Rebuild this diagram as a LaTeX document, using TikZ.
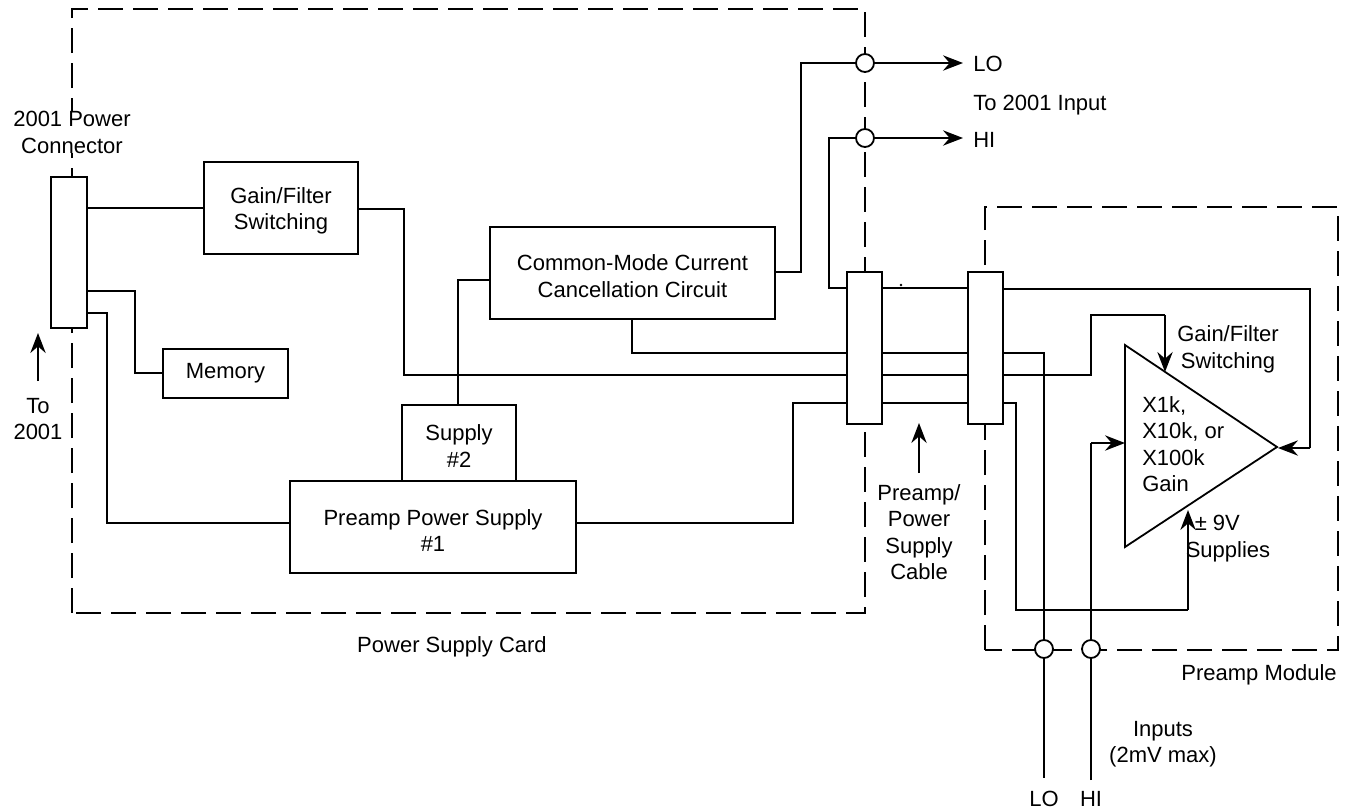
\documentclass[tikz,border=0pt]{standalone}
\usepackage{fontspec}
\setmainfont{Liberation Sans}
\usetikzlibrary{arrows.meta}
\tikzset{
  x=0.75pt,y=-0.75pt,
  wire/.style={line width=1.35pt},
  arr/.style={wire,-{Stealth[length=15pt,width=11.5pt,inset=5pt]}},
  bound/.style={line width=1.35pt,dash pattern=on 18.75pt off 7.5pt},
  blockbox/.style={draw,line width=1.35pt,fill=white,inner sep=0pt},
  port/.style={draw,circle,line width=1.35pt,fill=white,inner sep=0pt,minimum size=13.5pt},
  lbl/.style={align=center,inner sep=0pt,font=\fontsize{16.5pt}{19.8pt}\selectfont},
  lblw/.style={lbl,fill=white,inner xsep=1pt,inner ysep=0pt}
}
\begin{document}
\begin{tikzpicture}
\useasboundingbox (0,0) rectangle (1346,811);
% dashed enclosures
\coordinate (cardTL) at (72,9);
\coordinate (cardTR) at (865,9);
\coordinate (cardBR) at (865,613);
\coordinate (cardBL) at (72,613);
\coordinate (modTL) at (985,207);
\coordinate (modTR) at (1338,207);
\coordinate (modBR) at (1338,650);
\coordinate (modBL) at (985,650);
\draw[bound] (cardBL) -- (cardTL) -- (cardTR) -- (cardBR) -- (cardBL);
\draw[bound] (modBL) -- (modTL) -- (modTR) -- (modBR) -- (modBL);
% text that interrupts the dashed line
\node[lblw] (pwr) at (72,132.5) {2001 Power\\Connector};
% blocks
\node[blockbox,minimum width=27pt,minimum height=113.25pt] (conL) at (69,252.5) {};
\node[blockbox,minimum width=115.5pt,minimum height=69pt] (gain) at (281,208) {};
\node[lbl] (gainT) at (281,211) {Gain/Filter\\Switching};
\node[blockbox,minimum width=93.75pt,minimum height=36.75pt] (mem) at (225.5,373.5) {};
\node[lbl] (memT) at (225.5,373.5) {Memory};
\node[blockbox,minimum width=213.75pt,minimum height=69pt] (cm) at (632.5,273) {};
\node[lbl] (cmT) at (632.5,276) {Common-Mode Current\\Cancellation Circuit};
\node[blockbox,minimum width=85.5pt,minimum height=57pt] (sup2) at (459,443) {};
\node[lbl] (sup2T) at (459,446) {Supply\\\#2};
\node[blockbox,minimum width=214.5pt,minimum height=69pt] (pps) at (433,527) {};
\node[lbl] (ppsT) at (433,530.5) {Preamp Power Supply\\\#1};
\node[port] (pLO) at (865,63) {};
\node[port] (pHI) at (865,138) {};
\node[port] (iLO) at (1044,649) {};
\node[port] (iHI) at (1091,649) {};
\coordinate (oLO) at (963,63);
\coordinate (oHI) at (963,138);
\coordinate (eLO) at (1044,778);
\coordinate (eHI) at (1091,780);
% wires behind the cable connectors
\draw[wire] (conL.east |- gain.west) -- (gain.west);
\draw[wire] (87,291) -- (135,291) -- (135,373) -- (mem.west |- 0,373);
\draw[wire] (87,313) -- (107,313) -- (107,523) -- (pps.west |- 0,523);
\draw[wire] (458,405) -- (458,280) -- (490,280);
\draw[wire] (775,272) -- (801,272) -- (801,63) -- (pLO.west);
\draw[arr] (pLO.east) -- (oLO);
\draw[wire] (847,288) -- (829,288) -- (829,138) -- (pHI.west);
\draw[arr] (pHI.east) -- (oHI);
\draw[wire] (882,288) -- (968,288);
\fill (901,285) circle (1pt);
\draw[wire] (1003,289) -- (1310,289) -- (1310,448);
\draw[arr] (1310,448) -- (1278,448);
\draw[wire] (632,319) -- (632,353) -- (1044,353) -- (iLO.north);
\draw[wire] (iLO.south) -- (eLO);
\draw[wire] (358,209) -- (404,209) -- (404,375) -- (1091,375) -- (1091,315) -- (1165,315);
\draw[arr] (1165,315) -- (1165,372);
\draw[wire] (576,523) -- (793,523) -- (793,403) -- (1016,403) -- (1016,610) -- (1188,610);
\draw[arr] (1188,610) -- (1188,510);
\draw[wire] (eHI) -- (iHI.south);
\draw[wire] (iHI.north) -- (1091,443);
\draw[arr] (1091,443) -- (1125,443);
% cable connectors
\node[blockbox,minimum width=26.25pt,minimum height=114pt] (con1) at (864.5,348) {};
\node[blockbox,minimum width=26.25pt,minimum height=114pt] (con2) at (985.5,348) {};
% amplifier
\draw[line width=1.35pt,line join=miter] (1125,345) -- (1277,447) -- (1125,547) -- cycle;
\node[lbl,align=left,anchor=north west] (amp) at (1142,396) {X1k,\\X10k, or\\X100k\\Gain};
% labels
\node[lbl,anchor=west] (tLO) at (973,64) {LO};
\node[lbl,anchor=west] (tIn) at (973,105) {To 2001 Input};
\node[lbl,anchor=west] (tHI) at (973,140) {HI};
\node[lbl] (to2001) at (38,419) {To\\2001};
\coordinate (toA) at (38,381);
\coordinate (toB) at (38,333);
\draw[arr] (toA) -- (toB);
\node[lbl] (card) at (452,647) {Power Supply Card};
\node[lbl] (cable) at (919,532) {Preamp/\\Power\\Supply\\Cable};
\coordinate (cabA) at (919,473);
\coordinate (cabB) at (919,423);
\draw[arr] (cabA) -- (cabB);
\node[lbl] (gf) at (1228,349.5) {Gain/Filter\\Switching};
\node[lbl] (sup) at (1228,538.5) {± 9V\hspace*{16pt}\\Supplies};
\node[lbl,anchor=east] (mod) at (1337,675) {Preamp Module};
\node[lbl] (inp) at (1163,744) {Inputs\\(2mV max)};
\node[lbl] (tlo2) at (1044,798.5) {LO};
\node[lbl] (thi2) at (1091,798.5) {HI};
\end{tikzpicture}
\end{document}
